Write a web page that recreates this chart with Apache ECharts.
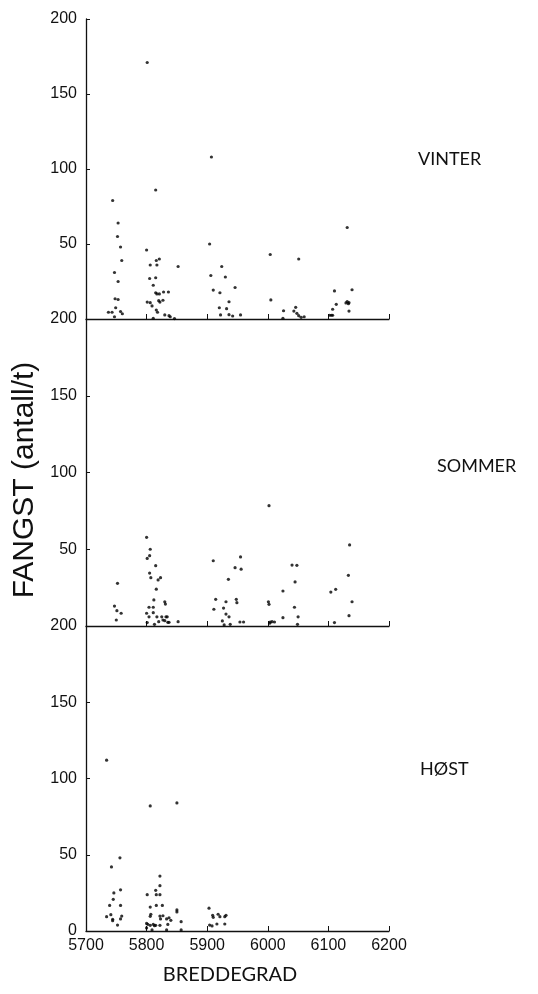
<!DOCTYPE html>
<html>
<head>
<meta charset="utf-8">
<script src="https://cdn.jsdelivr.net/npm/echarts@6/dist/echarts.min.js"></script>
<style>
  html, body { margin: 0; padding: 0; background: #fff; }
  #chart { width: 538px; height: 994px; }
</style>
</head>
<body>
<div id="chart"></div>
<script>
// Catch rate (fish per hour) against latitude, one panel per season.
const xTicks = [5700, 5800, 5900, 6000, 6100, 6200];
const yTicks = [0, 50, 100, 150, 200];
const seasons = ['VINTER', 'SOMMER', 'HØST'];

// [latitude, catch per hour]
const vinter = [
  [5801,171],[5907,108],[5815,86],[5744,79],[5753,64],[6131,61],[5752,55],[5904,50],[5757,48],[5800,46],
  [6004,43],[6051,40],[5821,40],[5816,39],[5759,39],[5806,36],[5817,36],[5852,35],[5924,35],[5747,31],
  [5906,29],[5930,28],[5815,27.5],[5805,27],[6201,26],[5753,25],[5811,22.5],[5946,21],[6139,19.5],[5910,19.3],
  [6110,18.7],[5828,18],[5836,18],[5815,17.5],[5921,17.5],[5817,16.7],[5821,16.7],[5748,13.5],[5753,13],[6005,12.7],
  [5827,12.5],[5820,12.2],[6131,11.6],[5936,11.5],[5801,11.3],[5822,11.3],[5806,10.9],[6134,10.9],[6129,10.7],[6133,10.2],
  [6113,9.8],[5809,8.7],[6201,8],[6046,7.8],[5749,7.5],[5920,7.5],[5932,6.9],[6107,6.5],[5816,6],[6026,5.5],
  [6043,5.3],[6134,5.3],[5757,5],[5737,4.5],[5743,4.5],[5818,4.5],[6048,3.8],[5760,3.5],[5936,2.9],[5830,2.7],
  [5922,2.7],[5955,2.7],[6102,2.5],[6105,2.5],[6107,2.5],[5837,2.2],[6051,2.2],[5942,2],[5747,1.5],[5839,1.5],
  [6060,1.5],[6055,1.1],[5811,0.5],[6025,0.5],[5846,0.3]
];
const sommer = [
  [6002,78.4],[5800,57.8],[6135,52.8],[5806,50],[5805,45.8],[5955,45],[5801,44],[5910,42.5],[6040,39.7],[6048,39.5],
  [5815,39.3],[5946,38],[5956,37],[5805,34.5],[6133,33],[5807,31.5],[5823,31.5],[5935,30.4],[5819,30],[6045,28.7],
  [5752,27.8],[5816,24],[6112,23.9],[6025,22.8],[6104,22.1],[5914,17.4],[5948,17.4],[5812,17],[5830,15.8],[5931,15.8],
  [6001,15.8],[6139,15.8],[5949,15.2],[5831,14.3],[6002,14.1],[5747,13],[5804,12.2],[5811,12.2],[6044,12.2],[5927,11.7],
  [5911,10.9],[5751,10],[5811,8.7],[5758,8.3],[5800,8.3],[5931,7.8],[6134,6.7],[5804,6],[5817,6],[5825,6],
  [5834,6],[5832,6],[5936,6],[6050,6],[6025,5.4],[5750,3.9],[5827,3.9],[5830,3.5],[5925,3.3],[5820,2.8],
  [6007,2.8],[5954,2.6],[5960,2.6],[6004,2.6],[6011,2.6],[5837,2.4],[5835,2.4],[5801,2.2],[6110,2.2],[6003,1.8],
  [5813,1.1],[5852,2.8],[5938,1.1],[6049,1.1],[5928,0.7]
];
const host = [
  [5734,112],[5850,84],[5806,82],[5756,48],[5742,42],[5822,36],[5822,29.7],[5757,27],[5815,26.7],[5746,25],
  [5801,23.8],[5816,23.8],[5822,23.8],[5745,20.8],[5739,16.8],[5757,16.8],[5816,16.8],[5826,16.8],[5806,15.7],[5903,15],
  [5850,13.8],[5850,12.5],[5807,11],[5918,11],[5741,10.7],[5909,10.3],[5931,10.3],[5827,10],[5759,9.8],[5822,9.8],
  [5806,9.6],[5734,9.4],[5921,9.4],[5929,9.4],[5910,9],[5837,8.7],[5757,7.9],[5823,7.9],[5833,7.9],[5744,7.7],
  [5840,7],[5744,6.8],[5857,6.1],[5800,5],[5916,4.6],[5929,4.6],[5802,4.4],[5811,4.4],[5835,4.3],[5752,3.9],
  [5904,3.9],[5806,3.7],[5815,3.7],[5822,3.7],[5813,3.5],[5908,3.3],[5800,2],[5809,0.7],[5833,0.7],[5857,0.7]
];

const panelData = [vinter, sommer, host];
const grids = [
  { left: 86, width: 303, top: 19, height: 300 },
  { left: 86, width: 303, top: 319, height: 307 },
  { left: 86, width: 303, top: 626, height: 305 }
];
const ink = '#111';
const tickFont = { fontFamily: 'Liberation Sans', fontSize: 16, color: ink };

const chart = echarts.init(document.getElementById('chart'), null, { renderer: 'canvas' });

const xAxes = grids.map((g, i) => ({
  type: 'value', gridIndex: i,
  min: xTicks[0], max: xTicks[xTicks.length - 1], interval: 100,
  axisLine: { show: true, lineStyle: { color: ink, width: 1.3 } },
  axisTick: { show: true, inside: true, length: 5, lineStyle: { color: ink } },
  axisLabel: Object.assign({ show: i === 2, margin: 7, formatter: v => String(v) }, tickFont),
  splitLine: { show: false }
}));
const yAxes = grids.map((g, i) => ({
  type: 'value', gridIndex: i,
  min: yTicks[0], max: yTicks[yTicks.length - 1], interval: 50,
  axisLine: { show: true, lineStyle: { color: ink, width: 1.3 } },
  axisTick: { show: true, inside: true, length: 4, lineStyle: { color: ink } },
  axisLabel: Object.assign({ margin: 9, showMinLabel: i === 2 }, tickFont),
  splitLine: { show: false }
}));
const series = panelData.map((d, i) => ({
  type: 'scatter', xAxisIndex: i, yAxisIndex: i,
  data: d, symbol: 'circle', symbolSize: 3.2,
  itemStyle: { color: '#000' }, silent: true
}));

const labelFont = 'Lato';
const graphic = [
  { type: 'text', left: 418, top: 150, style: { text: seasons[0], font: '18px ' + labelFont, fill: ink } },
  { type: 'text', left: 437, top: 457, style: { text: seasons[1], font: '18px ' + labelFont, fill: ink } },
  { type: 'text', left: 420, top: 760, style: { text: seasons[2], font: '18px ' + labelFont, fill: ink } },
  { type: 'text', x: 230, y: 975, style: { text: 'BREDDEGRAD', font: '20px ' + labelFont, fill: ink, textAlign: 'center', textVerticalAlign: 'middle' } },
  { type: 'text', x: 25, y: 480, rotation: Math.PI / 2, style: { text: 'FANGST (antall/t)', font: '30px Liberation Sans', fill: ink, textAlign: 'center', textVerticalAlign: 'middle' } }
];

chart.setOption({
  animation: false,
  backgroundColor: '#fff',
  grid: grids,
  xAxis: xAxes,
  yAxis: yAxes,
  series: series,
  graphic: graphic
});
</script>
</body>
</html>
